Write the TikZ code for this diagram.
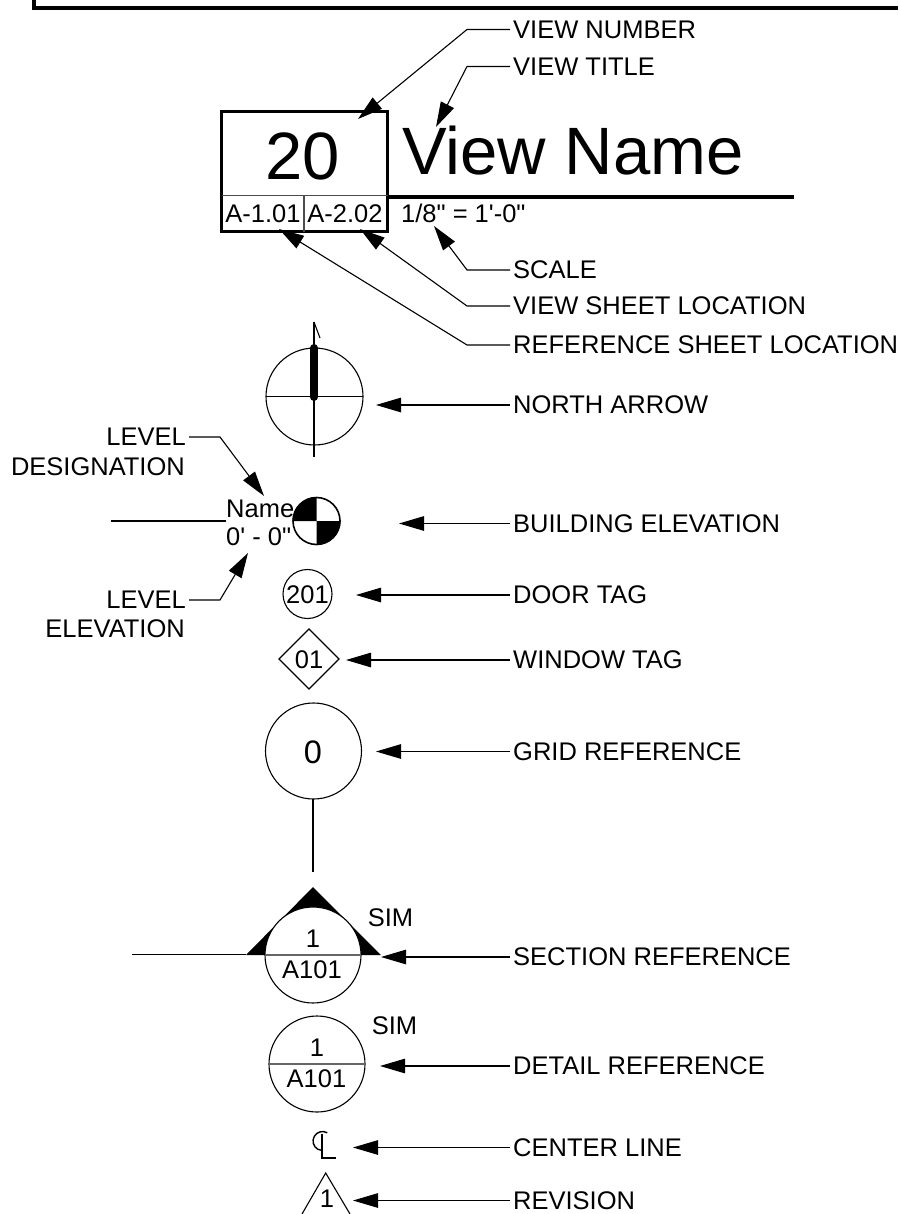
\documentclass[tikz,border=0pt]{standalone}
\usepackage{fontspec}
\setmainfont{Liberation Sans}[Ligatures=TeXOff]
\usetikzlibrary{arrows.meta}
\tikzset{
 x=1pt,y=-1pt,
 lbl/.style={anchor=west,inner sep=0pt,font=\fontsize{25.5}{30}\selectfont},
 sym/.style={inner sep=0pt,font=\fontsize{25.5}{30}\selectfont},
 thin line/.style={line width=1.1pt},
 lead/.style={line width=1.1pt,-{Triangle[length=25pt,width=14.5pt]}},
}
\begin{document}
\begin{tikzpicture}
\useasboundingbox (0,0) rectangle (898,1214);
% top frame
\draw[line width=3.5pt] (34,0) -- (34,8) -- (898,8);
% view title block
\draw[line width=3pt] (221.7,112) rectangle (387.7,231.7);
\draw[line width=1.1pt,black!70] (221.7,195.7) -- (387.7,195.7);
\draw[line width=1.1pt,black!70] (304,195.7) -- (304,231.7);
\draw[line width=3.5pt] (387.7,197) -- (794,197);
\node[sym,font=\fontsize{67}{70}\selectfont] (num) at (303,156) {20};
\node[anchor=west,inner sep=0pt,font=\fontsize{67}{70}\selectfont] (vname) at (402,150.5) {View Name};
\node[sym] (s1) at (263,213.5) {A-1.01};
\node[sym] (s2) at (345,213.5) {A-2.02};
\node[sym,anchor=west] (scale) at (401,213.5) {1/8" = 1'-0"};
% labels
\node[lbl] (lnum) at (513,29.5) {VIEW NUMBER};
\node[lbl] (ltit) at (513,66.5) {VIEW TITLE};
\node[lbl] (lsca) at (513,270) {SCALE};
\node[lbl] (lsht) at (513,306) {VIEW SHEET LOCATION};
\node[lbl] (lref) at (513,345) {REFERENCE SHEET LOCATION};
\node[lbl] (lnor) at (513,405) {NORTH ARROW};
\node[lbl] (lbui) at (513,523.5) {BUILDING ELEVATION};
\node[lbl] (ldoo) at (513,595) {DOOR TAG};
\node[lbl] (lwin) at (513,660) {WINDOW TAG};
\node[lbl] (lgri) at (513,751.5) {GRID REFERENCE};
\node[lbl] (lsec) at (513,957) {SECTION REFERENCE};
\node[lbl] (ldet) at (513,1066) {DETAIL REFERENCE};
\node[lbl] (lcen) at (513,1147.5) {CENTER LINE};
\node[lbl] (lrev) at (513,1200.5) {REVISION};
% leaders
\coordinate (a1) at (358,119);
\coordinate (a2) at (436,127);
\coordinate (a3) at (279,229);
\coordinate (a4) at (360,229);
\coordinate (a5) at (434,226);
\draw[lead] (lnum.west) ++(-3,0) -- (467,29.5) -- (a1);
\draw[lead] (ltit.west) ++(-3,0) -- (467,66.5) -- (a2);
\draw[lead] (lsca.west) ++(-3,0) -- (467,270) -- (a5);
\draw[lead] (lsht.west) ++(-3,0) -- (467,306) -- (a4);
\draw[lead] (lref.west) ++(-3,0) -- (467,345) -- (a3);
\coordinate (a6) at (376,405);
\coordinate (a7) at (399,523.5);
\coordinate (a8) at (356,595);
\coordinate (a9) at (346,660);
\coordinate (a10) at (376,751.5);
\coordinate (a11) at (381,957);
\coordinate (a12) at (380,1066);
\coordinate (a13) at (353,1147.5);
\coordinate (a14) at (353,1200.5);
\draw[lead] (lnor.west) ++(-3,0) -- (a6);
\draw[lead] (lbui.west) ++(-3,0) -- (a7);
\draw[lead] (ldoo.west) ++(-3,0) -- (a8);
\draw[lead] (lwin.west) ++(-3,0) -- (a9);
\draw[lead] (lgri.west) ++(-3,0) -- (a10);
\draw[lead] (lsec.west) ++(-3,0) -- (a11);
\draw[lead] (ldet.west) ++(-3,0) -- (a12);
\draw[lead] (lcen.west) ++(-3,0) -- (a13);
\draw[lead] (lrev.west) ++(-3,0) -- (a14);
% north arrow
\draw[thin line] (314.5,396.5) circle (48.5);
\draw[thin line] (266,396.5) -- (363,396.5);
\draw[thin line] (314,322) -- (314,457);
\draw[thin line] (314,322) -- (320,338);
\draw[line width=8pt,line cap=round] (314,348) -- (314,397);
% level
\node[lbl,anchor=east] (ld1) at (186,437) {LEVEL};
\node[lbl,anchor=east] (ld2) at (185,466.5) {DESIGNATION};
\node[lbl,anchor=east] (le1) at (186,600) {LEVEL};
\node[lbl,anchor=east] (le2) at (185,629) {ELEVATION};
\coordinate (b1) at (264,496);
\coordinate (b2) at (248,553);
\draw[lead] (ld1.east) ++(3,0) -- (220,437) -- (b1);
\draw[lead] (le1.east) ++(3,0) -- (220,600) -- (b2);
\node[anchor=west,inner sep=0pt,font=\fontsize{25.5}{30}\selectfont] (lvn) at (226,509) {Name};
\node[anchor=west,inner sep=0pt,font=\fontsize{25.5}{30}\selectfont] (lve) at (226,537) {0' - 0"};
\draw[line width=2pt] (111,520.5) -- (lvn.west |- 0,520.5);
\draw[line width=1.6pt] (316.5,521) circle (23.5);
\fill (316.5,521) -- (292.5,521) arc (180:270:24) -- cycle;
\fill (316.5,521) -- (340.5,521) arc (0:90:24) -- cycle;
% door tag
\draw[thin line] (307.5,594) circle (24.5);
\node[sym] (t201) at (307.5,595) {201};
% window
\draw[thin line] (309,629) -- (339,659) -- (309,689) -- (279,659) -- cycle;
\node[sym] (t01) at (309,660) {01};
% grid
\draw[thin line] (313.5,751) circle (48);
\node[sym,font=\fontsize{32.5}{36}\selectfont] (t0) at (313,752) {0};
\draw[line width=1.4pt] (313,799) -- (313,872);
% section
\draw[line width=1pt] (132,954.5) -- (246,954.5);
\fill (313,887) -- (381,955) -- (246,955) -- cycle;
\filldraw[fill=white,draw=black,line width=1.1pt] (313,955) circle (48);
\draw[line width=1.3pt,black!60] (265,955) -- (361,955);
\node[sym] (s1a) at (313,939) {1};
\node[sym] (s1b) at (312,970) {A101};
\node[sym] (s1c) at (390.5,918) {SIM};
% detail
\draw[thin line] (317,1064) circle (48);
\draw[line width=1.3pt,black!60] (269,1064) -- (365,1064);
\node[sym] (d1a) at (317,1048) {1};
\node[sym] (d1b) at (316.5,1079) {A101};
\node[sym] (d1c) at (394.5,1026) {SIM};
% center line
\draw[line width=1.4pt] (327.3,1132.8) arc (300:90:9.5);
\draw[line width=1.4pt] (322,1134) -- (322,1158) -- (336,1158);
% revision
\draw[thin line] (302,1214) -- (325.7,1173) -- (350,1214);
\node[sym] (r1) at (327,1199) {1};
\end{tikzpicture}
\end{document}
